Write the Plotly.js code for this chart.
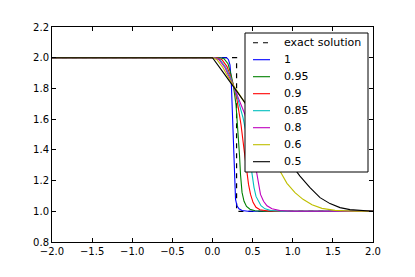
<!DOCTYPE html>
<html>
<head>
<meta charset="utf-8">
<script src="https://cdn.plot.ly/plotly-3.0.1.min.js"></script>
<style>html,body{margin:0;padding:0;background:#fff;}#chart{width:415px;height:277px;}</style>
</head>
<body>
<div id="chart"></div>
<script>
// Exact solution
const exactX = [-2, 0.3, 0.3, 2];
const exactY = [2, 2, 1, 1];

// Numerical solutions, labelled by parameter value
const labels = ["1", "0.95", "0.9", "0.85", "0.8", "0.6", "0.5"];
const colors = ["#0000ff", "#008000", "#ff0000", "#00bfbf", "#bf00bf", "#bfbf00", "#000000"];

const x1 = [-2, 0.177, 0.199, 0.218, 0.233, 0.243, 0.255, 0.268, 0.278, 0.287, 0.305, 0.330, 0.368, 0.442, 2];
const y1 = [2, 2.0, 1.987, 1.953, 1.857, 1.727, 1.532, 1.338, 1.175, 1.078, 1.036, 1.016, 1.005, 1.0, 1.0];

const x095 = [-2, 0.093, 0.143, 0.193, 0.231, 0.259, 0.293, 0.318, 0.336, 0.349, 0.368, 0.393, 0.424, 0.467, 0.530, 0.617, 2];
const y095 = [2, 2.0, 1.994, 1.961, 1.890, 1.823, 1.695, 1.532, 1.370, 1.240, 1.123, 1.065, 1.032, 1.013, 1.003, 1.0, 1.0];

const x09 = [-2, 0.056, 0.118, 0.181, 0.231, 0.259, 0.305, 0.355, 0.393, 0.426, 0.449, 0.474, 0.505, 0.542, 0.592, 0.692, 0.816, 2];
const y09 = [2, 2.0, 1.987, 1.942, 1.870, 1.823, 1.727, 1.565, 1.403, 1.260, 1.175, 1.110, 1.058, 1.026, 1.010, 1.002, 1.0, 1.0];

const x085 = [-2, 0.031, 0.093, 0.168, 0.231, 0.259, 0.318, 0.380, 0.430, 0.467, 0.492, 0.517, 0.542, 0.571, 0.604, 0.654, 0.729, 0.866, 2];
const y085 = [2, 2.0, 1.987, 1.935, 1.864, 1.823, 1.727, 1.610, 1.481, 1.338, 1.240, 1.156, 1.097, 1.065, 1.036, 1.016, 1.005, 1.0, 1.0];

const x08 = [-2, 0.019, 0.081, 0.156, 0.218, 0.259, 0.330, 0.405, 0.467, 0.517, 0.551, 0.573, 0.598, 0.636, 0.679, 0.741, 0.841, 0.991, 2];
const y08 = [2, 2.0, 1.987, 1.935, 1.864, 1.823, 1.727, 1.630, 1.500, 1.351, 1.260, 1.175, 1.110, 1.065, 1.036, 1.016, 1.005, 1.0, 1.0];

const x06 = [-2, 0.006, 0.056, 0.131, 0.206, 0.259, 0.343, 0.442, 0.592, 0.717, 0.841, 0.928, 1.028, 1.128, 1.240, 1.364, 1.526, 1.776, 2];
const y06 = [2, 2.0, 1.987, 1.935, 1.864, 1.823, 1.753, 1.675, 1.571, 1.435, 1.262, 1.182, 1.121, 1.078, 1.042, 1.019, 1.006, 1.0, 1.0];

const x05 = [-2, 0.0, 0.131, 0.259, 0.384, 0.592, 0.841, 1.040, 1.090, 1.215, 1.340, 1.464, 1.589, 1.713, 1.863, 2.0];
const y05 = [2, 2.0, 1.906, 1.812, 1.718, 1.571, 1.403, 1.266, 1.229, 1.154, 1.089, 1.050, 1.024, 1.011, 1.003, 1.0];

const xs = [x1, x095, x09, x085, x08, x06, x05];
const ys = [y1, y095, y09, y085, y08, y06, y05];

const xTicks = [-2, -1.5, -1, -0.5, 0, 0.5, 1, 1.5, 2];
const yTicks = [0.8, 1.0, 1.2, 1.4, 1.6, 1.8, 2.0, 2.2];

const traces = [{
  x: exactX, y: exactY, mode: "lines", name: "exact solution",
  line: {color: "#000000", width: 1.2, dash: "5px,5px"}
}];
for (let i = 0; i < labels.length; i++) {
  traces.push({
    x: xs[i], y: ys[i], mode: "lines", name: labels[i],
    line: {color: colors[i], width: 1.1}
  });
}

// Matplotlib-style legend box (opaque, tight rows), built from the traces
const W = 415, H = 277, M = {l: 52, r: 42, t: 27, b: 35};
const pw = W - M.l - M.r, ph = H - M.t - M.b;
const px = v => (v - M.l) / pw;
const py = v => (H - M.b - v) / ph;
const shapes = [{
  type: "rect", xref: "paper", yref: "paper", layer: "above",
  x0: px(245), x1: px(368), y0: py(172), y1: py(33),
  fillcolor: "#fff", line: {color: "#000", width: 1}
}];
const annotations = [];
traces.forEach((t, i) => {
  const yc = py(42.7 + 17 * i);
  shapes.push({
    type: "line", xref: "paper", yref: "paper", layer: "above",
    x0: px(253), x1: px(270), y0: yc, y1: yc,
    line: {color: t.line.color, width: 1.1, dash: t.line.dash ? "5px,5px" : "solid"}
  });
  annotations.push({
    xref: "paper", yref: "paper", x: px(282), y: yc, xanchor: "left", yanchor: "middle",
    text: t.name, showarrow: false,
    font: {family: "DejaVu Sans", size: 11, color: "#000"}
  });
});

const axisCommon = {
  showgrid: false, zeroline: false, showline: true, linecolor: "#000", linewidth: 1,
  mirror: "allticks", ticks: "inside", ticklen: 4, tickwidth: 1, tickcolor: "#000",
  tickfont: {family: "DejaVu Sans", size: 10, color: "#000"}, tickformat: ".1f"
};

const layout = {
  width: W, height: H,
  margin: M,
  paper_bgcolor: "#fff", plot_bgcolor: "#fff",
  xaxis: Object.assign({}, axisCommon, {range: [-2, 2], tickvals: xTicks}),
  yaxis: Object.assign({}, axisCommon, {range: [0.8, 2.2], tickvals: yTicks}),
  showlegend: false,
  shapes: shapes,
  annotations: annotations
};

Plotly.newPlot("chart", traces, layout, {displayModeBar: false, staticPlot: true});
</script>
</body>
</html>
